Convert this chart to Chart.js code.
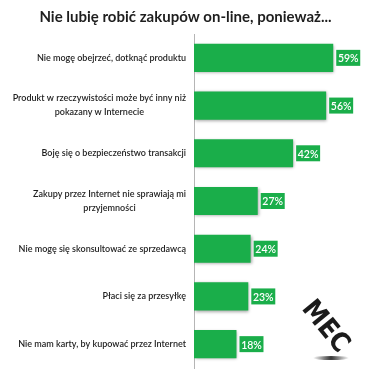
<!DOCTYPE html>
<html>
<head>
<meta charset="utf-8">
<script src="https://cdn.jsdelivr.net/npm/chart.js@4.4.1/dist/chart.umd.min.js"></script>
<style>
html,body{margin:0;padding:0;background:#fff;}
#wrap{width:376px;height:375px;position:relative;}
</style>
</head>
<body>
<div id="wrap"><canvas id="c" width="376" height="375"></canvas></div>
<script>
const chartTitle = "Nie lubię robić zakupów on-line, ponieważ...";
const categories = [
  ["Nie mogę obejrzeć, dotknąć produktu"],
  ["Produkt w rzeczywistości może być inny niż", "pokazany w Internecie"],
  ["Boję się o bezpieczeństwo transakcji"],
  ["Zakupy przez Internet nie sprawiają mi", "przyjemności"],
  ["Nie mogę się skonsultować ze sprzedawcą"],
  ["Płaci się za przesyłkę"],
  ["Nie mam karty, by kupować przez Internet"]
];
const values = [59, 56, 42, 27, 24, 23, 18];
const logoText = "MEC";

const GREEN = '#1aae4a';
const LABEL_FONT = '600 9px Lato, "Open Sans", sans-serif';

const barShadow = {
  id: 'barShadow',
  beforeDatasetDraw(chart) {
    const ctx = chart.ctx;
    ctx.save();
    ctx.shadowColor = 'rgba(0,0,0,0.35)';
    ctx.shadowBlur = 3;
    ctx.shadowOffsetX = 1;
    ctx.shadowOffsetY = 1;
  },
  afterDatasetDraw(chart) { chart.ctx.restore(); }
};

const catLabels = {
  id: 'catLabels',
  afterDraw(chart) {
    const ctx = chart.ctx, y = chart.scales.y;
    ctx.save();
    ctx.font = LABEL_FONT;
    ctx.fillStyle = '#1e1e1e';
    ctx.textBaseline = 'middle';
    const right = y.right - 8;
    categories.forEach((lines, i) => {
      const cy = y.getPixelForTick(i);
      const lh = 14;
      const widths = lines.map(l => ctx.measureText(l).width);
      const w0 = Math.max(...widths);
      lines.forEach((l, j) => {
        const ly = cy + (j - (lines.length - 1) / 2) * lh;
        ctx.textAlign = 'center';
        ctx.fillText(l, right - w0 / 2, ly);
      });
    });
    ctx.restore();
  }
};

const valueBoxes = {
  id: 'valueBoxes',
  afterDatasetsDraw(chart) {
    const ctx = chart.ctx;
    const meta = chart.getDatasetMeta(0);
    ctx.save();
    ctx.font = '600 10.5px Lato, "Open Sans", sans-serif';
    meta.data.forEach((bar, i) => {
      const txt = values[i] + '%';
      const x0 = bar.x + 3, w = 24, h = 16;
      ctx.fillStyle = GREEN;
      ctx.fillRect(x0, bar.y - h / 2, w, h);
      ctx.fillStyle = '#ffffff';
      ctx.textAlign = 'center';
      ctx.textBaseline = 'middle';
      ctx.fillText(txt, x0 + w / 2, bar.y + 1);
    });
    ctx.restore();
  }
};

const logo = {
  id: 'logo',
  afterDraw(chart) {
    const ctx = chart.ctx;
    ctx.save();
    const g = ctx.createRadialGradient(331, 358, 1, 331, 358, 18);
    g.addColorStop(0, 'rgba(40,40,40,0.9)');
    g.addColorStop(1, 'rgba(40,40,40,0)');
    ctx.fillStyle = g;
    ctx.beginPath();
    ctx.ellipse(331, 358, 18, 2, 0, 0, Math.PI * 2);
    ctx.fill();
    ctx.translate(325, 327);
    ctx.rotate(Math.PI / 4 + 0.1);
    ctx.font = 'bold 27px "Liberation Sans Narrow", "DejaVu Sans Condensed", sans-serif';
    ctx.fillStyle = '#1b1b1b';
    ctx.textAlign = 'center';
    ctx.textBaseline = 'middle';
    ctx.fillText(logoText, 0, 0);
    ctx.restore();
  }
};

new Chart(document.getElementById('c'), {
  type: 'bar',
  data: {
    labels: categories.map(c => c.join(' ')),
    datasets: [{
      data: values,
      backgroundColor: GREEN,
      borderWidth: 0,
      barPercentage: 0.59,
      categoryPercentage: 1.0
    }]
  },
  options: {
    indexAxis: 'y',
    responsive: false,
    animation: false,
    layout: { padding: { top: 0, right: 5, bottom: 7, left: 0 } },
    plugins: {
      legend: { display: false },
      tooltip: { enabled: false },
      title: {
        display: true,
        text: chartTitle,
        color: '#1e1e1e',
        font: { family: 'Lato, "Open Sans", sans-serif', size: 15, weight: 'bold' },
        padding: { top: 8, bottom: 8 }
      }
    },
    scales: {
      x: {
        display: false,
        min: 0,
        max: 75
      },
      y: {
        grid: { display: false },
        border: { display: true, color: '#b5b5b5', width: 1 },
        ticks: { display: false },
        afterFit(scale) { scale.width = 194; }
      }
    }
  },
  plugins: [barShadow, valueBoxes, catLabels, logo]
});
</script>
</body>
</html>
